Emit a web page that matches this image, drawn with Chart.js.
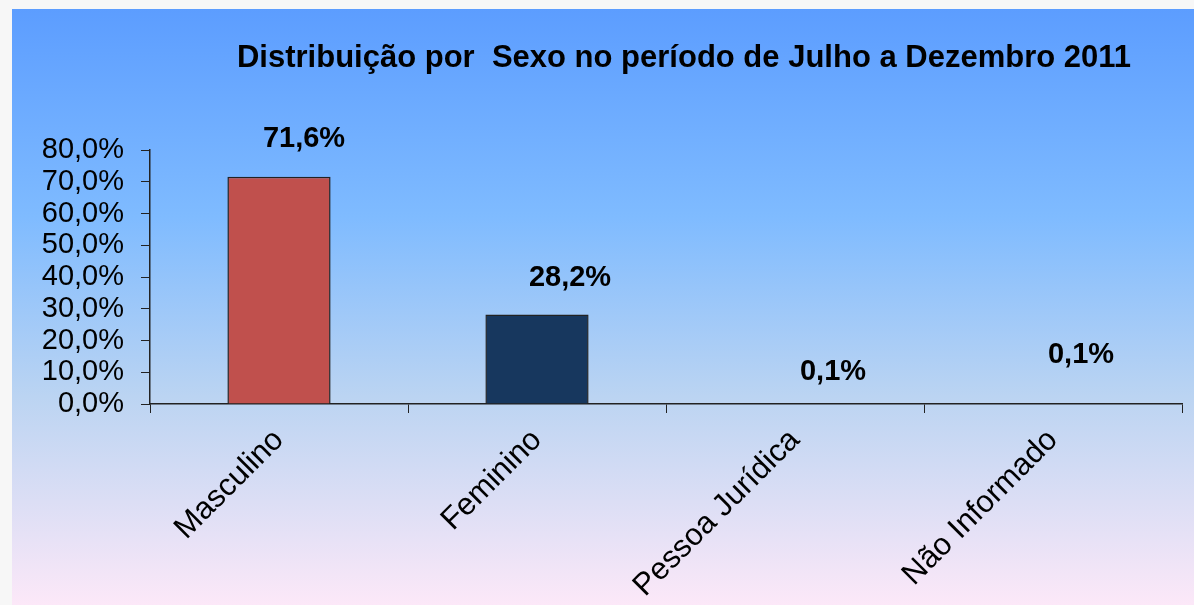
<!DOCTYPE html>
<html lang="pt">
<head>
    <meta charset="UTF-8">
    <title>Distribuição por Sexo</title>
    <script src="https://cdn.jsdelivr.net/npm/chart.js"></script>
    <style>
        html, body { margin: 0; padding: 0; background: #f7f7f7; }
        #wrap { width: 1194px; height: 605px; }
    </style>
</head>
<body>
<div id="wrap"><canvas id="myChart" width="1194" height="605"></canvas></div>
<script>
    var categories = ['Masculino', 'Feminino', 'Pessoa Jurídica', 'Não Informado'];
    var values = [71.6, 28.2, 0.1, 0.1];
    var yTicks = [0, 10, 20, 30, 40, 50, 60, 70, 80];
    var titleText = 'Distribuição por  Sexo no período de Julho a Dezembro 2011';

    var barColors = ['#C0504D', '#17375E', '#F79646', '#4BACC6'];
    // label offset from top of each bar (dx, dy)
    var labelShift = [[25, 38], [33, 36], [38, 32], [28, 49]];
    var FONT = '"Liberation Sans", Arial, sans-serif';

    function fmt(v) {
        return v.toFixed(1).replace('.', ',') + '%';
    }

    var bgPlugin = {
        id: 'bg',
        beforeDraw: function (chart) {
            var ctx = chart.ctx;
            ctx.save();
            ctx.fillStyle = '#f7f7f7';
            ctx.fillRect(0, 0, chart.width, chart.height);
            var g = ctx.createLinearGradient(0, 9, 0, chart.height);
            g.addColorStop(0, '#5C9DFF');
            g.addColorStop(0.35, '#7FBBFF');
            g.addColorStop(0.65, '#BBD4F2');
            g.addColorStop(1, '#FCE8F8');
            ctx.fillStyle = g;
            ctx.fillRect(12, 9, chart.width - 12, chart.height - 9);

            // title
            ctx.font = 'bold 31px ' + FONT;
            ctx.fillStyle = '#000';
            ctx.textAlign = 'center';
            ctx.textBaseline = 'middle';
            ctx.fillText(titleText, 684, 58);
            ctx.restore();
        }
    };

    var valuePlugin = {
        id: 'values',
        afterDatasetsDraw: function (chart) {
            var ctx = chart.ctx;
            var meta = chart.getDatasetMeta(0);
            ctx.save();
            ctx.font = 'bold 29px ' + FONT;
            ctx.fillStyle = '#000';
            ctx.textAlign = 'center';
            ctx.textBaseline = 'middle';
            meta.data.forEach(function (bar, i) {
                ctx.fillText(fmt(values[i]), bar.x + labelShift[i][0], bar.y - labelShift[i][1]);
            });
            ctx.restore();
        }
    };

    var ctx = document.getElementById('myChart').getContext('2d');
    var myChart = new Chart(ctx, {
        type: 'bar',
        data: {
            labels: categories,
            datasets: [{
                data: values,
                backgroundColor: barColors,
                borderColor: '#222',
                borderWidth: 1.5,
                barPercentage: 0.4,
                categoryPercentage: 1
            }]
        },
        plugins: [bgPlugin, valuePlugin],
        options: {
            responsive: false,
            animation: false,
            layout: { padding: { left: 12, right: 12, top: 150, bottom: 0 } },
            plugins: {
                legend: { display: false },
                tooltip: { enabled: false },
                title: { display: false }
            },
            scales: {
                x: {
                    grid: { drawOnChartArea: false, color: '#222', tickLength: 9, offset: true },
                    border: { color: '#222', width: 1.5 },
                    ticks: {
                        color: '#000',
                        maxRotation: 45,
                        minRotation: 45,
                        padding: 9,
                        font: { family: FONT, size: 31 }
                    },
                    afterFit: function (s) { s.height = 201; }
                },
                y: {
                    min: 0,
                    max: 80,
                    afterBuildTicks: function (s) {
                        s.ticks = yTicks.map(function (v) { return { value: v }; });
                    },
                    grid: { drawOnChartArea: false, color: '#222', tickLength: 9 },
                    border: { color: '#222', width: 1.5 },
                    ticks: {
                        color: '#000',
                        autoSkip: false,
                        padding: 17,
                        font: { family: FONT, size: 29 },
                        callback: function (v) { return fmt(v); }
                    },
                    afterFit: function (s) { s.width = 138; }
                }
            }
        }
    });
</script>
</body>
</html>
